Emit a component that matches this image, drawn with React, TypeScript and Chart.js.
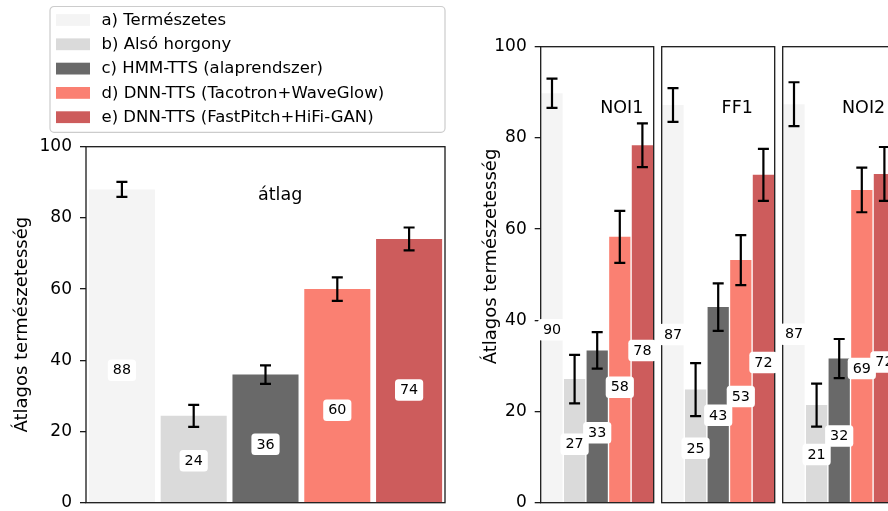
import React, { useEffect, useRef } from 'react';
import { Chart, registerables } from 'chart.js';
Chart.register(...registerables);

const systems = [
  'a) Természetes',
  'b) Alsó horgony',
  'c) HMM-TTS (alaprendszer)',
  'd) DNN-TTS (Tacotron+WaveGlow)',
  'e) DNN-TTS (FastPitch+HiFi-GAN)',
];
const colors = ['#f4f4f4', '#dadada', '#696969', '#fa8072', '#cd5c5c'];
const yTitle = 'Átlagos természetesség';

const avgMeans = [88.0, 24.4, 36.0, 60.0, 74.1];
const avgErr = [2.1, 3.1, 2.6, 3.3, 3.2];
const noi1Means = [89.8, 27.1, 33.4, 58.3, 78.4];
const noi1Err = [3.2, 5.3, 4.0, 5.7, 4.8];
const ff1Means = [87.2, 24.8, 42.9, 53.2, 71.9];
const ff1Err = [3.7, 5.8, 5.2, 5.5, 5.7];
const noi2Means = [87.4, 21.4, 31.6, 68.6, 72.1];
const noi2Err = [4.8, 4.7, 4.3, 4.9, 5.9];

const FONT = '"DejaVu Sans", "Noto Sans", sans-serif';
const CANVAS_H = 530;
const AREA_BOTTOM = 502.7;

type Spec = {
  title: string;
  means: number[];
  errs: number[];
  left: number;
  width: number;
  areaLeft: number;
  areaRight: number;
  areaTop: number;
  showY: boolean;
  barPct: number;
  titleFrac: number;
  yTitleX?: number;
  yTitleY?: number;
  legend?: boolean;
};

const panels: Spec[] = [
  {
    title: 'átlag', means: avgMeans, errs: avgErr,
    left: 0, width: 462, areaLeft: 86, areaRight: 445, areaTop: 146.7,
    showY: true, barPct: 0.92, titleFrac: 0.479, yTitleX: 22, legend: true,
  },
  {
    title: 'NOI1', means: noi1Means, errs: noi1Err,
    left: 470, width: 188, areaLeft: 70.7, areaRight: 183.7, areaTop: 46.7,
    showY: true, barPct: 0.94, titleFrac: 0.527, yTitleX: 21, yTitleY: 256.5,
  },
  {
    title: 'FF1', means: ff1Means, errs: ff1Err,
    left: 658, width: 120, areaLeft: 3.7, areaRight: 116.7, areaTop: 46.7,
    showY: false, barPct: 0.94, titleFrac: 0.53,
  },
  {
    title: 'NOI2', means: noi2Means, errs: noi2Err,
    left: 779, width: 120, areaLeft: 3.7, areaRight: 116.7, areaTop: 46.7,
    showY: false, barPct: 0.94, titleFrac: 0.525,
  },
];

function Panel({ spec }: { spec: Spec }) {
  const ref = useRef<HTMLCanvasElement | null>(null);
  useEffect(() => {
    if (!ref.current) return;
    const decor = {
      id: 'decor',
      afterDatasetsDraw(chart: any) {
        const ctx = chart.ctx as CanvasRenderingContext2D;
        const { left, right, top, bottom } = chart.chartArea;
        const ys = chart.scales.y;
        const meta = chart.getDatasetMeta(0);
        ctx.save();
        // error bars
        ctx.strokeStyle = '#000';
        ctx.lineWidth = 2.2;
        meta.data.forEach((bar: any, i: number) => {
          const m = spec.means[i];
          const e = spec.errs[i];
          const x = bar.x;
          const y1 = ys.getPixelForValue(m + e);
          const y0 = ys.getPixelForValue(m - e);
          ctx.beginPath();
          ctx.moveTo(x, y1); ctx.lineTo(x, y0);
          ctx.moveTo(x - 5.5, y1); ctx.lineTo(x + 5.5, y1);
          ctx.moveTo(x - 5.5, y0); ctx.lineTo(x + 5.5, y0);
          ctx.stroke();
        });
        // frame
        ctx.strokeStyle = '#1a1a1a';
        ctx.lineWidth = 1.3;
        ctx.strokeRect(left, top, right - left, bottom - top);
        // value labels
        ctx.font = `14.3px ${FONT}`;
        ctx.textAlign = 'center';
        ctx.textBaseline = 'middle';
        meta.data.forEach((bar: any, i: number) => {
          const v = spec.means[i];
          const txt = String(Math.round(v));
          const py = ys.getPixelForValue(v * 0.4 + 2);
          const w = ctx.measureText(txt).width + 10;
          const h = 21.5;
          ctx.fillStyle = '#fff';
          ctx.beginPath();
          (ctx as any).roundRect(bar.x - w / 2, py - h / 2, w, h, 3.5);
          ctx.fill();
          ctx.fillStyle = '#000';
          ctx.fillText(txt, bar.x, py + 0.5);
        });
        // panel title
        ctx.font = `17.5px ${FONT}`;
        ctx.textAlign = 'left';
        ctx.fillStyle = '#000';
        ctx.fillText(spec.title, left + spec.titleFrac * (right - left), ys.getPixelForValue(86.4));
        // y axis title
        if (spec.yTitleX != null) {
          ctx.save();
          ctx.translate(spec.yTitleX, spec.yTitleY ?? (top + bottom) / 2);
          ctx.rotate(-Math.PI / 2);
          ctx.font = `18px ${FONT}`;
          ctx.textAlign = 'center';
          ctx.textBaseline = 'middle';
          ctx.fillText(yTitle, 0, 0);
          ctx.restore();
        }
        // legend
        if (spec.legend) {
          const bx = 50, by = 6.5, bw = 395, bh = 125.8;
          ctx.fillStyle = 'rgba(255,255,255,0.8)';
          ctx.strokeStyle = '#cccccc';
          ctx.lineWidth = 1.2;
          ctx.beginPath();
          (ctx as any).roundRect(bx, by, bw, bh, 4);
          ctx.fill();
          ctx.stroke();
          ctx.font = `16.5px ${FONT}`;
          ctx.textAlign = 'left';
          ctx.textBaseline = 'middle';
          systems.forEach((s, i) => {
            const cy = 20 + i * 24.3;
            ctx.fillStyle = colors[i];
            ctx.fillRect(56, cy - 5.9, 34, 11.8);
            ctx.fillStyle = '#000';
            ctx.fillText(s, 101.5, cy + 0.5);
          });
        }
        ctx.restore();
      },
    };

    const chart = new Chart(ref.current, {
      type: 'bar',
      data: {
        labels: systems,
        datasets: [
          {
            data: spec.means,
            backgroundColor: colors,
            borderWidth: 0,
            barPercentage: spec.barPct,
            categoryPercentage: 1,
          },
        ],
      },
      options: {
        responsive: false,
        animation: false,
        events: [],
        layout: {
          padding: {
            top: spec.areaTop,
            bottom: CANVAS_H - AREA_BOTTOM,
            left: spec.showY ? 0 : spec.areaLeft,
            right: spec.width - spec.areaRight,
          },
        },
        scales: {
          x: { display: false, offset: true },
          y: {
            display: spec.showY,
            min: 0,
            max: 100,
            afterFit: (s: any) => {
              s.width = spec.showY ? spec.areaLeft : 0;
            },
            ticks: {
              stepSize: 20,
              color: '#000',
              padding: 8,
              font: { family: FONT, size: 17 },
            },
            grid: {
              display: true,
              drawOnChartArea: false,
              drawTicks: true,
              tickLength: 6,
              color: '#1a1a1a',
              lineWidth: 1.3,
            },
            border: { display: false },
          },
        },
        plugins: {
          legend: { display: false },
          tooltip: { enabled: false },
        },
      } as any,
      plugins: [decor],
    });
    return () => chart.destroy();
  }, []);
  return (
    <canvas
      ref={ref}
      width={spec.width}
      height={CANVAS_H}
      style={{ position: 'absolute', left: spec.left, top: 0, display: 'block' }}
    />
  );
}

export default function App() {
  return (
    <div
      style={{
        position: 'fixed',
        left: 0,
        top: 0,
        width: 888,
        height: 511,
        overflow: 'hidden',
        background: '#fff',
      }}
    >
      {panels.map((p) => (
        <Panel key={p.title} spec={p} />
      ))}
    </div>
  );
}
